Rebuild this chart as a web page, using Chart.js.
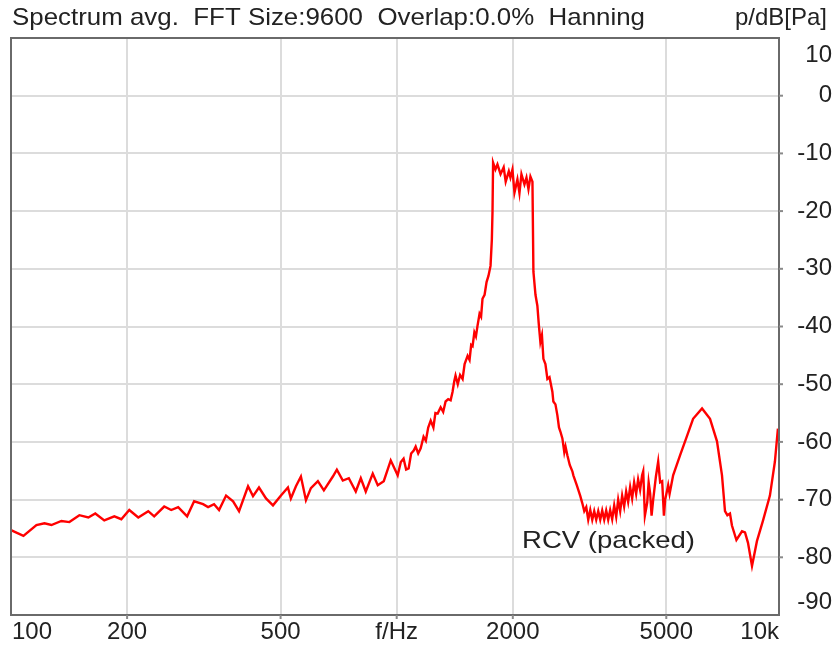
<!DOCTYPE html>
<html lang="en">
<head>
  <meta charset="UTF-8" />
  <title>Spectrum avg.</title>
  <script src="https://cdn.jsdelivr.net/npm/chart.js@4.4.1/dist/chart.umd.min.js"></script>
  <style>
    html,body{ margin:0; padding:0; background:#fff; }
    .wrap    { width:836px; height:653px; position:relative; }
  </style>
</head>
<body>
  <div class="wrap"><canvas id="spec" width="836" height="653"></canvas></div>

  <script>
    /* ---- data ---- */
    const titleLeft  = "Spectrum avg.  FFT Size:9600  Overlap:0.0%  Hanning";
    const titleRight = "p/dB[Pa]";
    const traceName  = "RCV (packed)";

    const freqs = [
      100, 107.7, 116.4, 122.1, 127.3, 135.1, 141.7, 150.4, 158.7, 165.4,
      174.5, 185.3, 193.2, 202.6, 213.8, 226.9, 235.1, 249.6, 260.2, 271.3,
      286.2, 298.4, 314.8, 324.3, 336.1, 346.3, 361.1, 376.5, 390.2, 411.7,
      424.1, 439.5, 458.3, 477.8, 501.1, 522.4, 531.7, 548.0, 564.5, 581.7,
      599.2, 624.7, 647.4, 683.1, 699.6, 725.0, 751.4, 783.3, 807.1, 831.4,
      866.8, 893.1, 925.7, 965, 1006, 1025, 1042, 1058, 1074, 1090,
      1107, 1120, 1137, 1154, 1174, 1190, 1207, 1225, 1245, 1260,
      1277, 1300, 1320, 1339, 1360, 1380, 1396, 1410, 1421, 1440,
      1460, 1482, 1500, 1527, 1545, 1560, 1573, 1590, 1605, 1620,
      1640, 1655, 1669, 1690, 1710, 1730, 1751, 1765, 1772, 1778,
      1803, 1825, 1859, 1894, 1917, 1953, 1972, 1996, 2020, 2056,
      2081, 2106, 2144, 2170, 2196, 2222, 2249, 2262, 2290, 2316,
      2335, 2358, 2380, 2401, 2430, 2459, 2490, 2533, 2548, 2580,
      2610, 2635, 2657, 2689, 2720, 2740, 2770, 2810, 2854, 2871,
      2930, 2993, 3028, 3064, 3101, 3138, 3176, 3214, 3252, 3291,
      3331, 3371, 3411, 3452, 3493, 3535, 3577, 3620, 3664, 3708,
      3752, 3797, 3842, 3888, 3935, 3982, 4030, 4078, 4127, 4177,
      4226, 4277, 4328, 4357, 4400, 4462, 4500, 4542, 4580, 4624,
      4700, 4764, 4820, 4879, 4930, 4967, 5057, 5100, 5209, 5431,
      5663, 5868, 6190, 6492, 6768, 6973, 7099, 7200, 7313, 7400,
      7600, 7858, 8000, 8144, 8341, 8590, 8903, 9283, 9564, 9737
    ];
    const levels = [
      -75.3, -76.3, -74.4, -74.1, -74.4, -73.7, -73.9, -72.7, -73.1, -72.4,
      -73.6, -72.9, -73.4, -71.8, -73.1, -72.0, -72.9, -71.2, -71.8, -71.3,
      -72.9, -70.3, -70.8, -71.3, -70.8, -71.8, -69.3, -70.3, -72.0, -67.7,
      -69.4, -67.9, -69.8, -71.0, -69.3, -67.9, -69.8, -67.7, -66.0, -70.1,
      -68.0, -66.8, -68.4, -66.0, -64.8, -66.7, -66.3, -68.6, -66.3, -68.6,
      -65.5, -67.5, -66.8, -63.2, -65.8, -63.5, -62.9, -64.8, -64.6, -62.0,
      -61.5, -60.8, -62.0, -61.1, -59.1, -59.8, -57.5, -56.3, -57.5, -55.0,
      -55.1, -54.0, -54.8, -53.0, -52.6, -52.8, -51.3, -49.5, -48.5, -50.0,
      -48.4, -49.1, -46.5, -45.1, -45.8, -43.2, -43.4, -41.0, -41.7, -39.9,
      -37.8, -38.3, -35.2, -34.5, -32.3, -31.2, -29.5, -24.9, -20.0, -11.6,
      -12.8, -11.9, -13.6, -12.4, -14.9, -13.1, -14.2, -12.8, -16.8, -14.5,
      -16.9, -13.6, -15.4, -14.2, -16.2, -14.0, -14.9, -30.5, -34.5, -36.4,
      -39.5, -42.7, -41.5, -45.6, -46.5, -49.1, -48.8, -51.3, -53.0, -53.5,
      -55.4, -57.5, -58.2, -59.4, -61.8, -60.8, -62.3, -64.0, -65.1, -65.8,
      -67.5, -69.4, -70.6, -72.0, -71.3, -73.5, -71.8, -73.5, -72.0, -73.5,
      -72.0, -73.5, -71.9, -73.5, -71.9, -73.5, -71.8, -73.4, -71.0, -73.0,
      -70.0, -72.0, -69.3, -71.2, -68.6, -70.4, -67.8, -69.8, -67.0, -69.0,
      -66.5, -68.3, -65.8, -65.1, -72.8, -70.5, -67.0, -69.0, -72.8, -70.0,
      -66.0, -63.4, -67.0, -66.8, -72.8, -70.0, -67.5, -69.0, -65.8, -62.3,
      -58.9, -56.0, -54.2, -56.0, -59.9, -65.8, -72.0, -72.7, -72.4, -74.5,
      -77.0, -75.5, -75.7, -77.5, -81.5, -77.2, -73.7, -69.3, -63.4, -57.7
    ];

    const xTickValues = [100, 200, 500, 1000, 2000, 5000, 9800];
    const xTickLabels = ["100", "200", "500", "f/Hz", "2000", "5000", "10k"];
    const yTickValues = [10, 0, -10, -20, -30, -40, -50, -60, -70, -80, -90];

    /* ---- style ---- */
    const FONT   = '24px "Liberation Sans", Arial, sans-serif';
    const INK    = "#222";
    const GRID   = "#dcdcdc";
    const FRAME  = "#6a6a6a";

    // the original's lettering runs a bit wider than Arial: squeeze/stretch to its width
    function wideText(ctx, txt, x, y, w){
      const m = ctx.measureText(txt).width;
      ctx.save();
      ctx.translate(x, y); ctx.scale(w / m, 1);
      ctx.textAlign = "left"; ctx.fillText(txt, 0, 0);
      ctx.restore();
    }

    /* frame, tick marks, labels and titles drawn on top of the chart */
    const decor = {
      id:"decor",
      afterDatasetsDraw(chart){
        const {ctx, chartArea:a, scales:{x, y}} = chart;
        ctx.save();

        // frame
        ctx.strokeStyle = FRAME; ctx.lineWidth = 2;
        ctx.strokeRect(a.left, a.top, a.right - a.left, a.bottom - a.top);

        // small tick marks on the frame
        ctx.strokeStyle = "#8a8a8a";
        xTickValues.slice(1, -1).forEach(v=>{
          const px = x.getPixelForValue(v);
          ctx.beginPath(); ctx.moveTo(px, a.bottom); ctx.lineTo(px, a.bottom + 4); ctx.stroke();
        });
        yTickValues.slice(1, -1).forEach(v=>{
          const py = y.getPixelForValue(v);
          ctx.beginPath(); ctx.moveTo(a.right, py); ctx.lineTo(a.right + 4, py); ctx.stroke();
        });

        ctx.font = FONT; ctx.fillStyle = INK; ctx.textBaseline = "middle";

        // x labels: end ones pushed inside the frame
        const last = xTickValues.length - 1;
        xTickValues.forEach((v, i)=>{
          const px = x.getPixelForValue(v);
          ctx.textAlign = i === 0 ? "left" : (i === last ? "right" : "center");
          ctx.fillText(xTickLabels[i], i === 0 ? a.left + 1 : (i === last ? a.right : px), 632);
        });

        // y labels on the right, end ones pushed inside
        ctx.textAlign = "right";
        yTickValues.forEach((v, i)=>{
          let py = y.getPixelForValue(v);
          if(i === 0) py += 17;
          if(i === yTickValues.length - 1) py -= 13;
          ctx.fillText(String(v), 832, py);
        });

        // titles
        wideText(ctx, titleLeft, 12, 18, 633);
        ctx.textAlign = "right"; ctx.fillText(titleRight, 827, 18);

        // trace name
        wideText(ctx, traceName, 522, 541, 173);

        ctx.restore();
      }
    };

    new Chart(document.getElementById("spec"), {
      type:"line",
      data:{ datasets:[{
        data: freqs.map((f, i)=>({x:f, y:levels[i]})),
        borderColor:"#ff0000", borderWidth:2.4, pointRadius:0, tension:0, fill:false
      }]},
      options:{
        responsive:false, animation:false,
        layout:{ padding:{left:11, right:57, top:38, bottom:38} },
        plugins:{ legend:{display:false}, tooltip:{enabled:false} },
        scales:{
          x:{
            type:"logarithmic", min:100, max:9800,
            afterBuildTicks: s => { s.ticks = xTickValues.slice(1, -1).map(v=>({value:v})); },
            ticks:{display:false},
            grid:{color:GRID, lineWidth:2, drawTicks:false},
            border:{display:false}
          },
          y:{
            position:"right", min:-90, max:10,
            afterBuildTicks: s => { s.ticks = yTickValues.slice(1, -1).map(v=>({value:v})); },
            ticks:{display:false},
            grid:{color:GRID, lineWidth:2, drawTicks:false},
            border:{display:false}
          }
        }
      },
      plugins:[decor]
    });
  </script>
</body>
</html>
